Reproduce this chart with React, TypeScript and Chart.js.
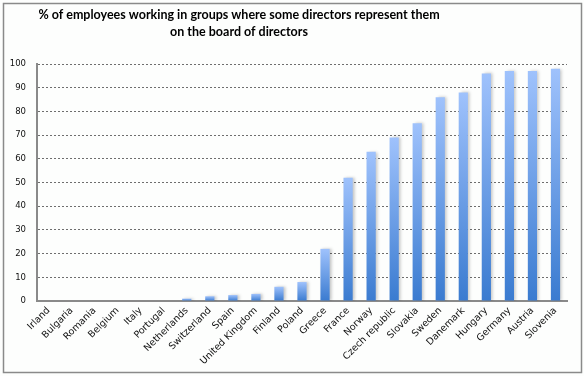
import React, { useEffect, useRef } from "react";
import { Chart, registerables } from "chart.js";

Chart.register(...registerables);

const titleLines = [
  "% of employees working in groups where some directors represent them",
  "on the board of directors",
];

const countries = [
  "Irland", "Bulgaria", "Romania", "Belgium", "Italy", "Portugal", "Netherlands",
  "Switzerland", "Spain", "United Kingdom", "Finland", "Poland", "Greece", "France",
  "Norway", "Czech republic", "Slovakia", "Sweden", "Danemark", "Hungary", "Germany",
  "Austria", "Slovenia",
];

const shares = [
  0, 0, 0, 0, 0, 0, 1, 2, 2.5, 3, 6, 8, 22, 52, 63, 69, 75, 86, 88, 96, 97, 97, 98,
];

const yTicks = [0, 10, 20, 30, 40, 50, 60, 70, 80, 90, 100];

const W = 584;
const H = 376;

export default function App() {
  const ref = useRef<HTMLCanvasElement | null>(null);

  useEffect(() => {
    document.body.style.margin = "0";
    const canvas = ref.current!;
    const decor = {
      id: "decor",
      beforeDraw(chart: any) {
        const ctx = chart.ctx;
        ctx.save();
        ctx.fillStyle = "#fdfefd";
        ctx.fillRect(0, 0, W, H);
        ctx.strokeStyle = "#8a8a8a";
        ctx.lineWidth = 1.5;
        ctx.strokeRect(3.5, 3.5, 578, 369);
        ctx.fillStyle = "#000";
        ctx.font = "bold 12.5px Lato, 'Open Sans', sans-serif";
        ctx.textAlign = "center";
        ctx.textBaseline = "middle";
        ctx.fillText(titleLines[0], 239, 15);
        ctx.fillText(titleLines[1], 239, 32);
        ctx.restore();
      },
      beforeDatasetsDraw(chart: any) {
        const ctx = chart.ctx;
        ctx.save();
        ctx.shadowColor = "rgba(0,0,0,0.22)";
        ctx.shadowBlur = 3;
        ctx.shadowOffsetX = 2;
        ctx.shadowOffsetY = 0;
      },
      afterDatasetsDraw(chart: any) {
        chart.ctx.restore();
      },
    };

    const chart = new Chart(canvas, {
      type: "bar",
      data: {
        labels: countries,
        datasets: [
          {
            data: shares,
            barPercentage: 0.4,
            categoryPercentage: 1,
            backgroundColor: (c: any) => {
              const chartObj = c.chart;
              const ys = chartObj.scales && chartObj.scales.y;
              const v = c.raw;
              if (!ys || typeof v !== "number") return "#5b93e0";
              const top = ys.getPixelForValue(v);
              const base = ys.getPixelForValue(0);
              if (!isFinite(top) || !isFinite(base) || base - top < 1) return "#3d7ed2";
              const g = chartObj.ctx.createLinearGradient(0, top, 0, base);
              g.addColorStop(0, "#9fc2fc");
              g.addColorStop(1, "#3a7bd0");
              return g;
            },
            borderWidth: 0,
          },
        ],
      },
      options: {
        animation: false,
        responsive: false,
        devicePixelRatio: 1,
        layout: { padding: { top: 64, left: 0, right: 17, bottom: 0 } },
        plugins: {
          legend: { display: false },
          title: { display: false },
          tooltip: { enabled: false },
        },
        scales: {
          x: {
            grid: { display: false, drawTicks: false },
            border: { color: "#8a8a8a", width: 2 },
            ticks: {
              maxRotation: 45,
              minRotation: 45,
              autoSkip: false,
              color: "#111",
              padding: 4,
              font: { family: "'DejaVu Sans', Verdana, sans-serif", size: 9.5 },
            },
            afterFit: (s: any) => {
              s.height = H - 301;
            },
          },
          y: {
            min: 0,
            max: 100,
            afterBuildTicks: (s: any) => {
              s.ticks = yTicks.map((v) => ({ value: v }));
            },
            grid: {
              color: (c: any) => (c.tick && c.tick.value === 0 ? "rgba(0,0,0,0)" : "#6e6e6e"),
              drawTicks: false,
              lineWidth: 1,
            },
            border: { color: "#8a8a8a", width: 2, dash: [2, 2] },
            ticks: {
              color: "#111",
              padding: 11,
              font: { family: "'DejaVu Sans', Verdana, sans-serif", size: 8.5 },
            },
            afterFit: (s: any) => {
              s.width = 37;
            },
          },
        },
      },
      plugins: [decor],
    } as any);

    return () => chart.destroy();
  }, []);

  return <canvas ref={ref} width={W} height={H} style={{ display: "block", width: W, height: H }} />;
}
